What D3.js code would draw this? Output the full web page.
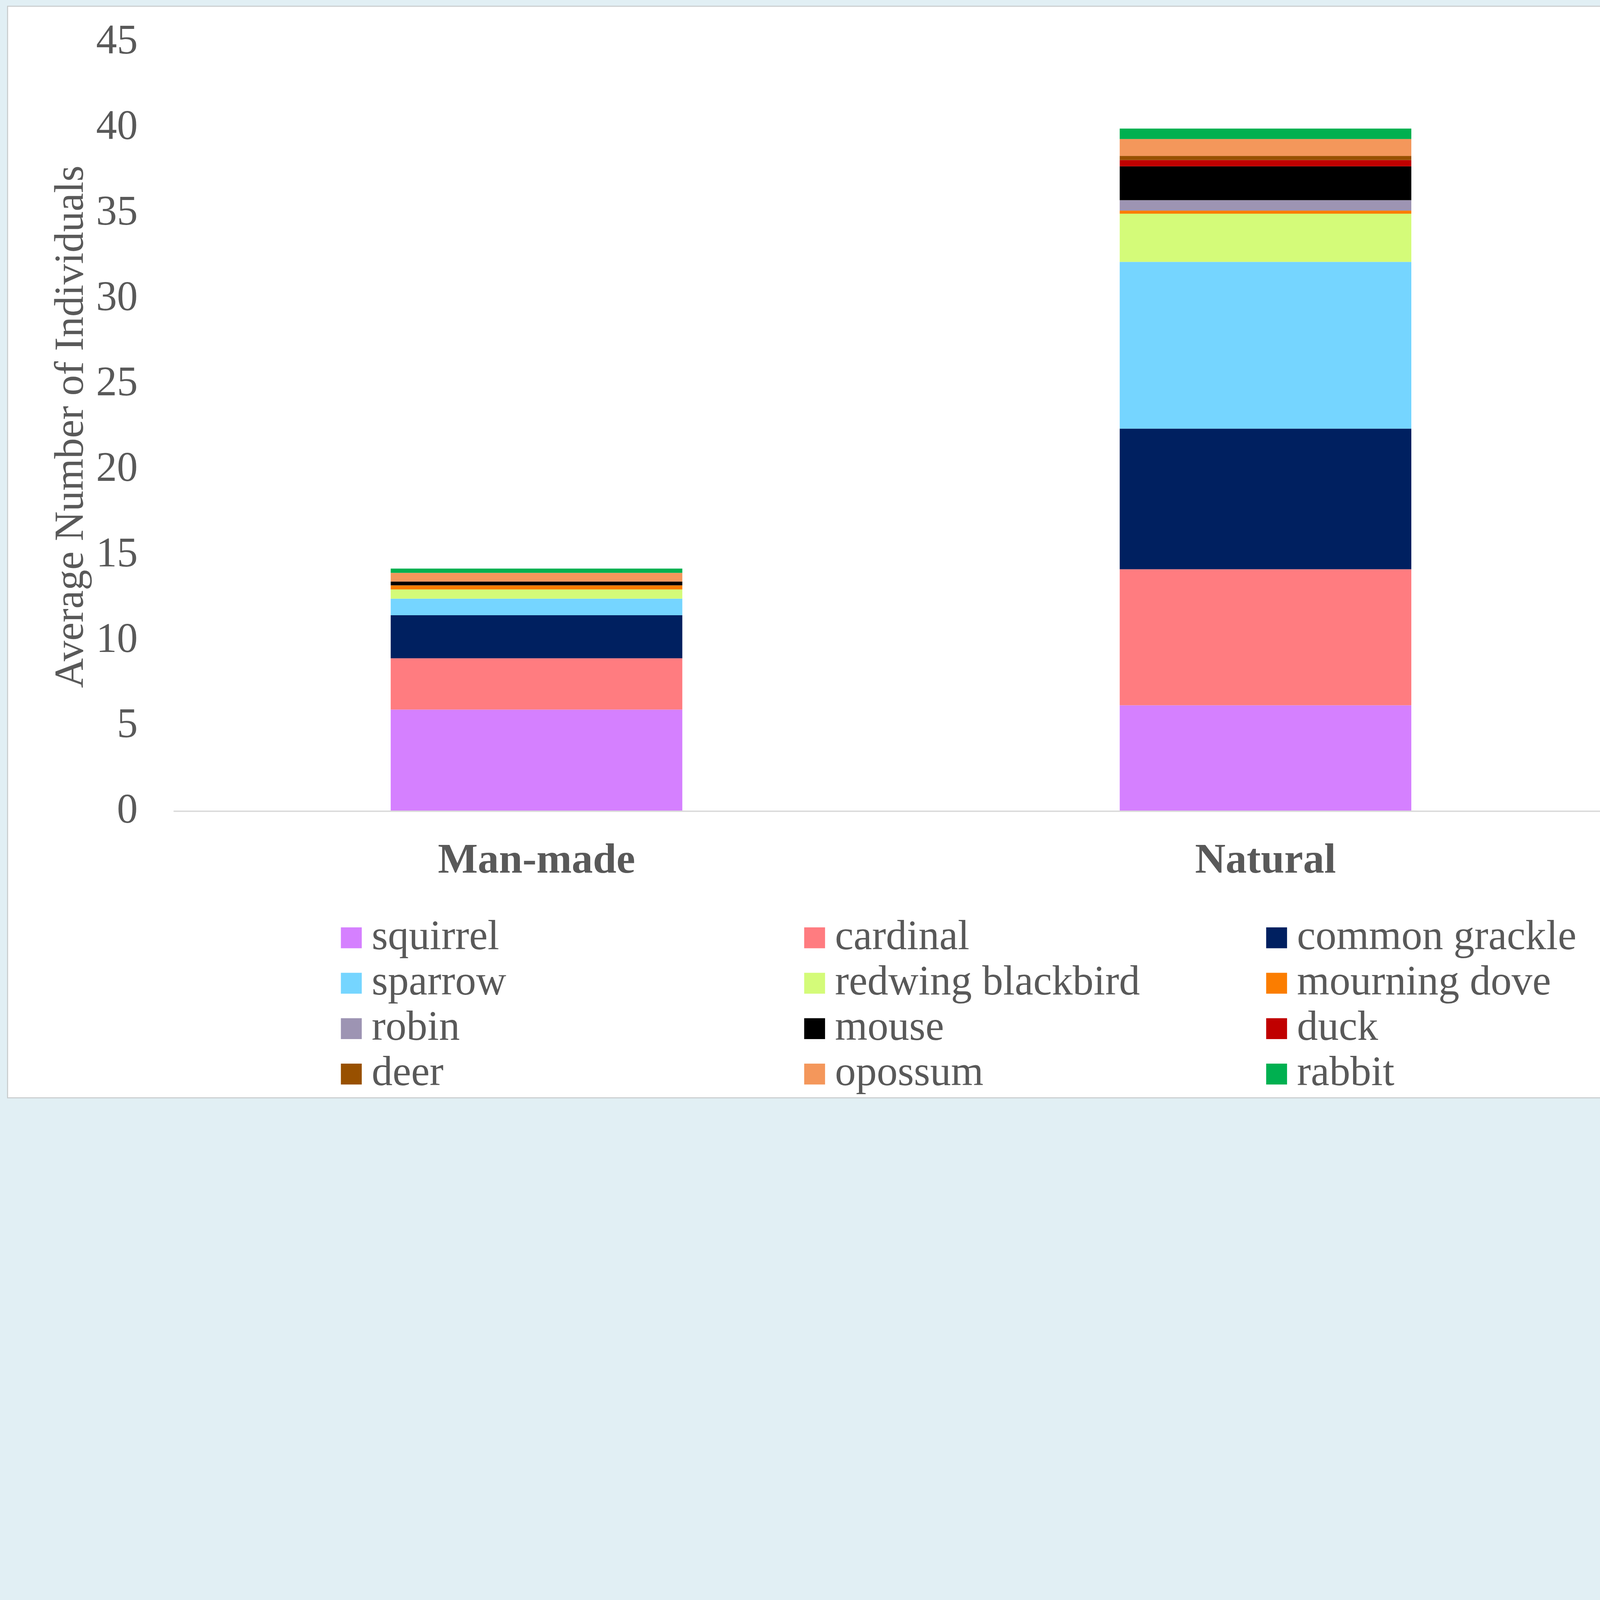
<!DOCTYPE html>
<html lang="en">
  <head>
    <meta charset="utf-8">
    <title>Average Number of Individuals</title>
    <script src="https://d3js.org/d3.v7.min.js"></script>
    <style>
      html, body {
        margin: 0;
        overflow: hidden;
        background: #e1eff4;
      }
      svg {
        display: block;
      }
      text {
        font-family: "Liberation Serif", "Times New Roman", serif;
        fill: #595959;
      }
    </style>
  </head>
  <body>
    <script type="text/javascript">
      // data
      var categories = ["Man-made", "Natural"];
      var species = ["squirrel", "cardinal", "common grackle", "sparrow", "redwing blackbird",
                     "mourning dove", "robin", "mouse", "duck", "deer", "opossum", "rabbit"];
      var manMade = [5.95, 3.00, 2.52, 0.97, 0.54, 0.24, 0, 0.22, 0, 0, 0.51, 0.25];
      var natural = [6.20, 7.96, 8.23, 9.76, 2.82, 0.18, 0.61, 1.98, 0.37, 0.24, 0.99, 0.61];
      var colors = ["#d580ff", "#ff7c80", "#002060", "#75d5ff", "#d4fb79", "#fb7d00",
                    "#9d94b3", "#000000", "#c00000", "#985000", "#f4975b", "#00b050"];
      var yTicks = [0, 5, 10, 15, 20, 25, 30, 35, 40, 45];

      var w = 6130;
      var h = 4182;

      // rows for d3.stack
      var rows = categories.map(function (c, i) {
        var vals = i === 0 ? manMade : natural;
        var r = {category: c};
        species.forEach(function (s, j) { r[s] = vals[j]; });
        return r;
      });

      // scale the drawing to whatever window it gets
      var svg = d3.select("body")
          .append("svg")
          .attr("viewBox", "0 0 " + w + " " + h)
          .attr("preserveAspectRatio", "xMinYMin meet")
          .style("width", "100vw")
          .style("height", "100vh");

      // white chart panel with grey edge
      svg.append("rect")
          .attr("x", 29)
          .attr("y", 24)
          .attr("width", w)
          .attr("height", h)
          .attr("fill", "white")
          .attr("stroke", "#c9cccd")
          .attr("stroke-width", 4);

      // scales
      var xScale = d3.scaleBand()
          .domain(categories)
          .range([659, 659 + 2 * 2793])
          .paddingInner(0.6)
          .paddingOuter(0.3);

      var yScale = d3.scaleLinear()
          .domain([0, 45])
          .range([3108, 162]);

      var colorScale = d3.scaleOrdinal()
          .domain(species)
          .range(colors);

      var stacked = d3.stack().keys(species)(rows);

      // bars
      svg.append("g")
          .attr("id", "bars")
          .selectAll("g")
          .data(stacked)
          .enter().append("g")
          .attr("fill", d => colorScale(d.key))
          .selectAll("rect")
          .data(d => d)
          .enter().append("rect")
          .attr("x", d => xScale(d.data.category))
          .attr("width", xScale.bandwidth())
          .attr("y", d => yScale(d[1]))
          .attr("height", d => yScale(d[0]) - yScale(d[1]));

      // y axis: labels only
      var yAxis = d3.axisLeft(yScale)
          .tickValues(yTicks)
          .tickSize(0)
          .tickPadding(0);

      var yg = svg.append("g")
          .attr("class", "yAxis")
          .attr("transform", "translate(528, 0)")
          .call(yAxis);
      yg.select(".domain").remove();
      yg.selectAll("text")
          .attr("font-size", 160)
          .attr("font-family", null)
          .attr("dy", "0.27em");

      // x axis
      var xAxis = d3.axisBottom(xScale)
          .tickSize(0)
          .tickPadding(0);

      var xg = svg.append("g")
          .attr("class", "xAxis")
          .attr("transform", "translate(0, 3108)")
          .call(xAxis);
      xg.select(".domain")
          .attr("stroke", "#d9d9d9")
          .attr("stroke-width", 5)
          .attr("d", "M665,0H" + w);
      xg.selectAll("text")
          .attr("font-size", 162)
          .attr("font-weight", "bold")
          .attr("font-family", null)
          .attr("dy", null)
          .attr("y", 235);

      // y axis title
      svg.append("text")
          .attr("transform", "translate(317, " + (yScale(0) + yScale(45)) / 2 + ") rotate(-90)")
          .attr("text-anchor", "middle")
          .attr("font-size", 158)
          .text("Average Number of Individuals");

      // legend, 3 columns
      var legendX = [1306, 3081, 4851];
      var legend = svg.append("g")
          .attr("id", "legend")
          .selectAll("g")
          .data(species)
          .enter().append("g")
          .attr("transform", function (d, i) {
            return "translate(" + legendX[i % 3] + "," + (3593 + Math.floor(i / 3) * 174) + ")";
          });

      legend.append("rect")
          .attr("x", 0)
          .attr("y", -40)
          .attr("width", 80)
          .attr("height", 80)
          .attr("fill", d => colorScale(d));

      legend.append("text")
          .attr("x", 118)
          .attr("y", 43)
          .attr("font-size", 160)
          .text(d => d);
    </script>
  </body>
</html>
